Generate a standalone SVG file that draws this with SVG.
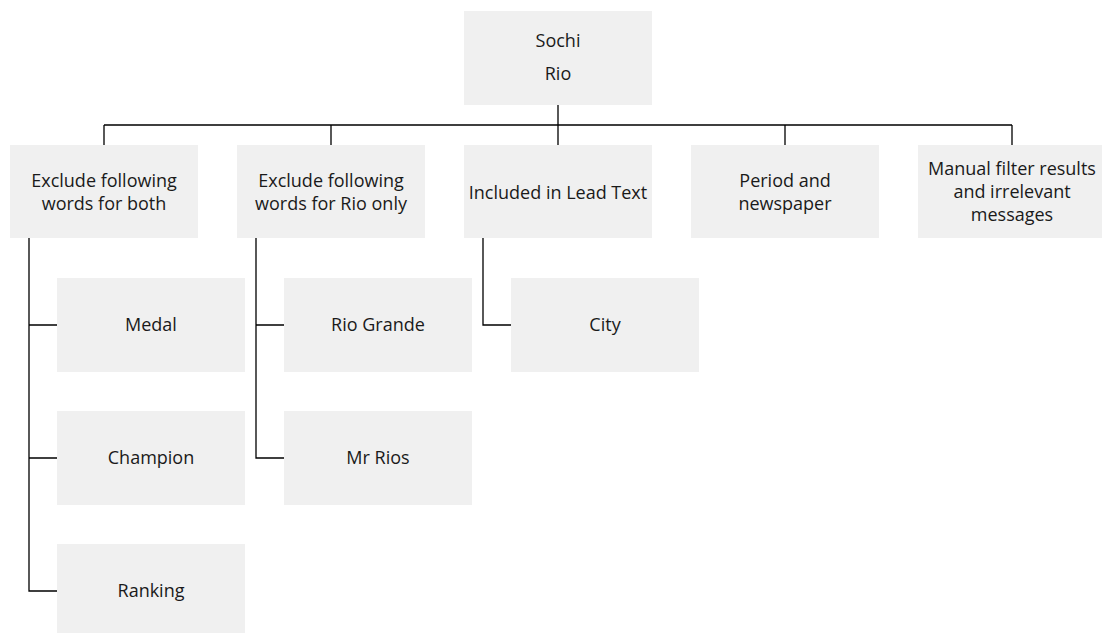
<svg xmlns="http://www.w3.org/2000/svg" width="1102" height="633" viewBox="0 0 1102 633">
<style>
.box{fill:#f0f0f0;}
.t{font-family:"Open Sans","Liberation Sans",sans-serif;font-size:18px;fill:#1a1a1a;text-anchor:middle;}
.c{fill:none;stroke:#000;stroke-width:1.3;}
</style>
<rect width="1102" height="633" fill="#fff"/>
<g id="connectors">
<path class="c" d="M558,105 V125 M104,125 H1012 M104,125 V145 M331,125 V145 M558,125 V145 M785,125 V145 M1012,125 V145"/>
<path class="c" d="M29,238 V591 H57 M29,325 H57 M29,458 H57"/>
<path class="c" d="M256,238 V458 H284 M256,325 H284"/>
<path class="c" d="M483,238 V325 H511"/>
</g>
<g id="root"><rect class="box" x="464" y="11" width="188" height="94"/><text class="t" x="558" y="47">Sochi</text><text class="t" x="558" y="80">Rio</text></g>
<g id="n1"><rect class="box" x="10" y="145" width="188" height="93"/><text class="t" x="104" y="187">Exclude following</text><text class="t" x="104" y="210">words for both</text></g>
<g id="n2"><rect class="box" x="237" y="145" width="188" height="93"/><text class="t" x="331" y="187">Exclude following</text><text class="t" x="331" y="210">words for Rio only</text></g>
<g id="n3"><rect class="box" x="464" y="145" width="188" height="93"/><text class="t" x="558" y="199">Included in Lead Text</text></g>
<g id="n4"><rect class="box" x="691" y="145" width="188" height="93"/><text class="t" x="785" y="187">Period and</text><text class="t" x="785" y="210">newspaper</text></g>
<g id="n5"><rect class="box" x="918" y="145" width="188" height="93"/><text class="t" x="1012" y="175">Manual filter results</text><text class="t" x="1012" y="198">and irrelevant</text><text class="t" x="1012" y="221">messages</text></g>
<g id="medal"><rect class="box" x="57" y="278" width="188" height="94"/><text class="t" x="151" y="331">Medal</text></g>
<g id="champion"><rect class="box" x="57" y="411" width="188" height="94"/><text class="t" x="151" y="464">Champion</text></g>
<g id="ranking"><rect class="box" x="57" y="544" width="188" height="94"/><text class="t" x="151" y="597">Ranking</text></g>
<g id="riogrande"><rect class="box" x="284" y="278" width="188" height="94"/><text class="t" x="378" y="331">Rio Grande</text></g>
<g id="mrrios"><rect class="box" x="284" y="411" width="188" height="94"/><text class="t" x="378" y="464">Mr Rios</text></g>
<g id="city"><rect class="box" x="511" y="278" width="188" height="94"/><text class="t" x="605" y="331">City</text></g>
</svg>
